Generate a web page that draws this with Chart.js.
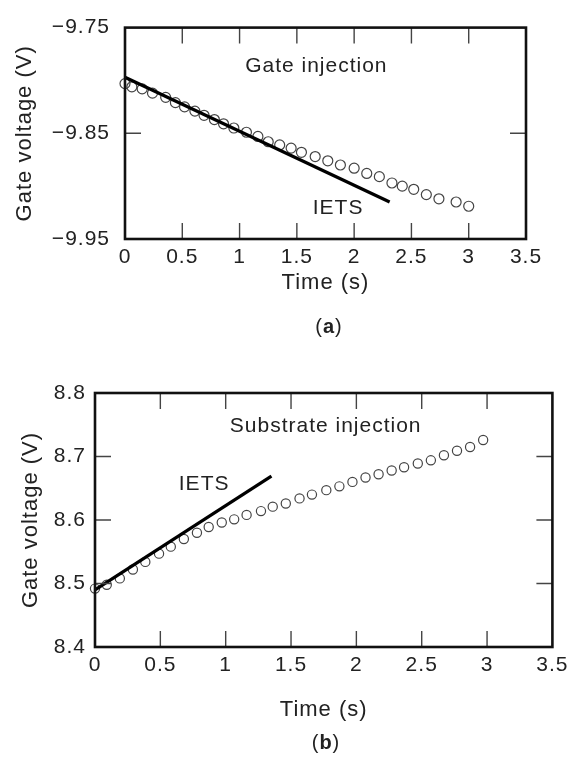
<!DOCTYPE html>
<html><head><meta charset="utf-8">
<script src="https://cdn.jsdelivr.net/npm/chart.js@4.4.1/dist/chart.umd.min.js"></script>
<style>
html,body{margin:0;padding:0;background:#fff;}
#wrap{position:relative;width:573px;height:757px;overflow:hidden;}
canvas{position:absolute;left:0;}
#c1{top:0;} #c2{top:370px;}
</style></head><body>
<div id="wrap"><canvas id="c1" width="573" height="360"></canvas><canvas id="c2" width="573" height="387"></canvas></div>
<script>
// ---- tick values ----
const timeTicks = [0, 0.5, 1, 1.5, 2, 2.5, 3, 3.5];
const gateTicks = [-9.95, -9.85, -9.75];
const subTicks = [8.4, 8.5, 8.6, 8.7, 8.8];

// ---- (a) gate injection ----
const gateTime = [0, 0.06, 0.15, 0.24, 0.355, 0.44, 0.52, 0.61, 0.69, 0.78, 0.86, 0.95, 1.06, 1.16, 1.25, 1.35, 1.45, 1.54, 1.66, 1.77, 1.88, 2.0, 2.11, 2.22, 2.33, 2.42, 2.52, 2.63, 2.74, 2.89, 3.0];
const gateVoltage = [-9.803, -9.806, -9.808, -9.812, -9.816, -9.821, -9.825, -9.829, -9.833, -9.837, -9.841, -9.845, -9.849, -9.853, -9.858, -9.861, -9.864, -9.868, -9.872, -9.876, -9.880, -9.883, -9.888, -9.891, -9.897, -9.900, -9.903, -9.908, -9.912, -9.915, -9.919];
const gateIetsTime = [0, 2.31];
const gateIetsVoltage = [-9.797, -9.915];

// ---- (b) substrate injection ----
const subTime = [0, 0.09, 0.19, 0.29, 0.385, 0.49, 0.58, 0.68, 0.78, 0.87, 0.97, 1.065, 1.16, 1.27, 1.36, 1.46, 1.565, 1.66, 1.77, 1.87, 1.97, 2.07, 2.17, 2.27, 2.365, 2.47, 2.57, 2.67, 2.77, 2.87, 2.97];
const subVoltage = [8.492, 8.498, 8.508, 8.522, 8.534, 8.547, 8.558, 8.570, 8.580, 8.589, 8.596, 8.601, 8.608, 8.614, 8.621, 8.626, 8.634, 8.640, 8.647, 8.653, 8.660, 8.667, 8.672, 8.678, 8.683, 8.689, 8.694, 8.702, 8.709, 8.715, 8.726];
const subIetsTime = [0, 1.35];
const subIetsVoltage = [8.49, 8.669];

const FONT = '"Liberation Sans", Arial, Helvetica, sans-serif';
const INK = '#222';

const framePlugin = {
  id: 'frame',
  beforeDraw(chart) { chart.ctx.letterSpacing = '1px'; },
  afterDraw(chart, args, opts) {
    const {ctx, chartArea: a, scales: {x, y}} = chart;
    ctx.save();
    ctx.letterSpacing = '1px';
    ctx.strokeStyle = '#444';
    ctx.lineWidth = 1.4;
    const L = 16;
    ctx.beginPath();
    x.ticks.forEach(t => {
      const px = x.getPixelForValue(t.value);
      if (px > a.left + 2 && px < a.right - 2) {
        ctx.moveTo(px, a.top); ctx.lineTo(px, a.top + L);
        ctx.moveTo(px, a.bottom); ctx.lineTo(px, a.bottom - L);
      }
    });
    y.ticks.forEach(t => {
      const py = y.getPixelForValue(t.value);
      if (py > a.top + 2 && py < a.bottom - 2) {
        ctx.moveTo(a.left, py); ctx.lineTo(a.left + L, py);
        ctx.moveTo(a.right, py); ctx.lineTo(a.right - L, py);
      }
    });
    ctx.stroke();
    ctx.strokeStyle = '#111';
    ctx.lineWidth = 2.6;
    ctx.strokeRect(a.left, a.top, a.width, a.height);
    // annotations
    ctx.fillStyle = INK;
    ctx.font = '21px ' + FONT;
    ctx.textAlign = 'center';
    ctx.textBaseline = 'alphabetic';
    (opts.notes || []).forEach(n => ctx.fillText(n.text, x.getPixelForValue(n.x), y.getPixelForValue(n.y)));
    // caption "(a)" with bold letter
    if (opts.caption) {
      const c = opts.caption;
      ctx.textBaseline = 'middle';
      ctx.textAlign = 'left';
      const norm = '20px ' + FONT, bold = 'bold 20px ' + FONT;
      ctx.font = norm; const w1 = ctx.measureText('(').width; const w3 = ctx.measureText(')').width;
      ctx.font = bold; const w2 = ctx.measureText(c.letter).width;
      let sx = c.x - (w1 + w2 + w3) / 2;
      ctx.font = norm; ctx.fillText('(', sx, c.y); sx += w1;
      ctx.font = bold; ctx.fillText(c.letter, sx, c.y); sx += w2;
      ctx.font = norm; ctx.fillText(')', sx, c.y);
    }
    ctx.restore();
  }
};

function pts(xs, ys) { return xs.map((t, i) => ({x: t, y: ys[i]})); }

function makeChart(id, cfg) {
  return new Chart(document.getElementById(id), {
    type: 'scatter',
    data: {datasets: [
      {label: 'IETS', data: pts(cfg.lineX, cfg.lineY), showLine: true, borderColor: '#000', borderWidth: 3.2,
       pointRadius: 0, fill: false, clip: false, order: 0},
      {label: cfg.name, data: pts(cfg.dataX, cfg.dataY), showLine: false, pointRadius: cfg.r,
       pointBorderColor: '#444', pointBackgroundColor: 'rgba(0,0,0,0)', pointBorderWidth: 1.2, clip: false, order: 1}
    ]},
    options: {
      responsive: false, animation: false, devicePixelRatio: 1,
      layout: {padding: {left: 0, right: cfg.padRight, top: cfg.padTop, bottom: 0}},
      plugins: {legend: {display: false}, tooltip: {enabled: false},
        frame: {notes: cfg.notes, caption: cfg.caption}},
      scales: {
        x: {type: 'linear', min: 0, max: 3.5,
          afterBuildTicks: s => { s.ticks = timeTicks.map(v => ({value: v})); },
          afterFit: s => { s.height = cfg.xHeight; },
          grid: {display: false, drawTicks: false, tickLength: 0}, border: {display: false},
          ticks: {padding: 6, color: INK, font: {size: 21, family: FONT}, maxRotation: 0, autoSkip: false,
            callback: v => String(v)},
          title: {display: true, text: 'Time (s)', color: INK, font: {size: 22, family: FONT},
            padding: {top: 0, bottom: cfg.xTitlePad}}},
        y: {type: 'linear', min: cfg.yMin, max: cfg.yMax,
          afterBuildTicks: s => { s.ticks = cfg.yTicks.map(v => ({value: v})); },
          afterFit: s => { s.width = cfg.yWidth; },
          grid: {display: false, drawTicks: false, tickLength: 0}, border: {display: false},
          ticks: {padding: cfg.yTickPad, color: INK, font: {size: 21, family: FONT}, autoSkip: false,
            callback: v => (v < 0 ? '\u2212' : '') + Math.abs(v).toFixed(cfg.dec)},
          title: {display: true, text: 'Gate voltage (V)', color: INK, font: {size: 22, family: FONT},
            padding: {top: cfg.yTitlePad, bottom: 0}}}
      }
    },
    plugins: [framePlugin]
  });
}

makeChart('c1', {
  name: 'Gate injection', dataX: gateTime, dataY: gateVoltage, lineX: gateIetsTime, lineY: gateIetsVoltage, r: 5,
  padRight: 47, padTop: 14, xHeight: 360 - 239, xTitlePad: 63.8, yWidth: 125, yTickPad: 15, yTitlePad: 11.8,
  yMin: -9.95, yMax: -9.75, yTicks: gateTicks, dec: 2,
  notes: [{text: 'Gate injection', x: 1.67, y: -9.7924}, {text: 'IETS', x: 1.86, y: -9.9266}],
  caption: {letter: 'a', x: 329, y: 327}
});

makeChart('c2', {
  name: 'Substrate injection', dataX: subTime, dataY: subVoltage, lineX: subIetsTime, lineY: subIetsVoltage, r: 4.6,
  padRight: 19, padTop: 23, xHeight: 387 - 277, xTitlePad: 33.8, yWidth: 95, yTickPad: 9, yTitlePad: 17.8,
  yMin: 8.4, yMax: 8.8, yTicks: subTicks, dec: 1,
  notes: [{text: 'Substrate injection', x: 1.765, y: 8.739}, {text: 'IETS', x: 0.835, y: 8.648}],
  caption: {letter: 'b', x: 326, y: 373}
});
</script>
</body></html>
